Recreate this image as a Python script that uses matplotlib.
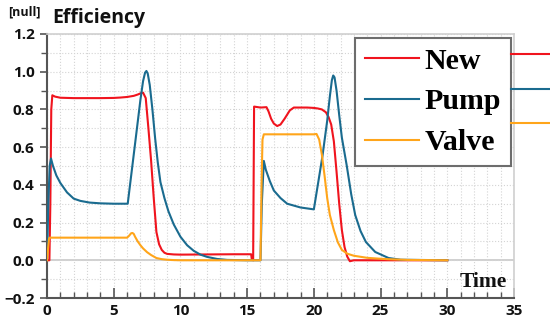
import matplotlib as mpl
mpl.use("Agg")
import matplotlib.pyplot as plt
from matplotlib.ticker import MultipleLocator, FuncFormatter

# values
t_new = [0, 0.18, 0.25, 0.32, 0.4, 0.6, 1.0, 2, 3, 4, 5, 5.5, 6.0, 6.5, 6.8, 7.0,
         7.2, 7.4, 7.6, 7.8, 8.0, 8.2, 8.4, 8.6, 8.8, 9.0, 9.5, 10, 12, 14, 15.3,
         15.35, 15.45, 15.52, 16.0, 16.45, 16.6, 16.8, 17.0, 17.25, 17.5, 17.8, 18.2,
         18.5, 19, 19.5, 20, 20.3, 20.6, 20.9, 21.1, 21.3, 21.5, 21.7, 21.9, 22.1,
         22.3, 22.5, 22.7, 23, 25, 30]
v_new = [0, 0, 0.3, 0.8, 0.875, 0.868, 0.862, 0.86, 0.86, 0.86, 0.861, 0.863, 0.866,
         0.872, 0.879, 0.885, 0.889, 0.86, 0.70, 0.53, 0.33, 0.15, 0.085, 0.055, 0.04,
         0.034, 0.031, 0.03, 0.031, 0.032, 0.032, 0.005, 0.0, 0.815, 0.81, 0.812, 0.79,
         0.75, 0.725, 0.712, 0.72, 0.75, 0.795, 0.81, 0.81, 0.81, 0.808, 0.805, 0.80,
         0.785, 0.76, 0.72, 0.63, 0.47, 0.30, 0.16, 0.07, 0.02, -0.005, 0.0, 0.0, 0.0]

t_pump = [0, 0.1, 0.2, 0.3, 0.45, 0.7, 1.0, 1.5, 2.0, 2.5, 3.2, 4, 5, 6.05, 6.54, 7.0,
          7.2, 7.35, 7.45, 7.55, 7.7, 7.9, 8.1, 8.3, 8.5, 8.8, 9.1, 9.5, 10.0, 10.5, 11,
          11.5, 12, 12.75, 13.5, 15, 16.0, 16.1, 16.25, 16.4, 16.7, 17.0, 17.5, 18.0,
          18.5, 19.0, 20.0, 20.64, 21.0, 21.2, 21.35, 21.45, 21.55, 21.7, 21.9, 22.1,
          22.46, 22.8, 23.1, 23.5, 23.9, 24.6, 25.6, 26.5, 30]
v_pump = [0.0, 0.3, 0.5, 0.54, 0.5, 0.45, 0.41, 0.36, 0.327, 0.315, 0.306, 0.302, 0.30,
          0.30, 0.583, 0.85, 0.95, 0.995, 1.004, 0.99, 0.93, 0.80, 0.65, 0.52, 0.415,
          0.33, 0.26, 0.19, 0.125, 0.08, 0.05, 0.03, 0.018, 0.007, 0.002, 0.0, 0.0,
          0.3, 0.527, 0.48, 0.42, 0.37, 0.33, 0.30, 0.29, 0.28, 0.27, 0.55, 0.74, 0.87,
          0.955, 0.98, 0.97, 0.9, 0.77, 0.65, 0.504, 0.35, 0.24, 0.155, 0.097, 0.044,
          0.012, 0.003, 0.0]

t_valve = [0, 0.05, 0.15, 0.2, 3, 6.0, 6.15, 6.3, 6.4, 6.5, 6.6, 6.8, 7.0, 7.2, 7.5,
           7.8, 8.2, 8.6, 9.0, 9.5, 10, 11, 15, 16.0, 16.08, 16.15, 16.25, 18, 20.0,
           20.2, 20.4, 20.6, 20.8, 21.0, 21.2, 21.5, 21.8, 22.1, 22.5, 23, 24, 24.6,
           25.5, 27, 30]
v_valve = [0.0, 0.04, 0.115, 0.12, 0.12, 0.12, 0.13, 0.143, 0.145, 0.14, 0.125, 0.10,
           0.08, 0.063, 0.043, 0.028, 0.012, 0.006, 0.003, 0.001, 0, 0, 0, 0, 0.4, 0.64,
           0.668, 0.668, 0.668, 0.67, 0.64, 0.56, 0.45, 0.33, 0.24, 0.16, 0.095, 0.055,
           0.035, 0.024, 0.013, 0.01, 0.006, 0.002, 0.0]

labels = ['New', 'Pump', 'Valve']
colors = ['#f0141e', '#1a6b8f', '#ffa51a']

tick_font = 'Open Sans'
legend_font = 'Liberation Serif'

fig = plt.figure(figsize=(5.5, 3.31), dpi=100)
ax = fig.add_axes([47/550, 1-298/331, (514-47)/550, (298-34)/331])

lines = []
for t, v, c in zip([t_new, t_pump, t_valve], [v_new, v_pump, v_valve], colors):
    ln, = ax.plot(t, v, '-', color=c, lw=1.5, zorder=3)
    lines.append(ln)

ax.axhline(0, color='#c8c8c8', lw=1.2, zorder=1)

ax.set_xlim(0, 35)
ax.set_ylim(-0.2, 1.2)
ax.xaxis.set_major_locator(MultipleLocator(5))
ax.xaxis.set_minor_locator(MultipleLocator(1))
ax.yaxis.set_major_locator(MultipleLocator(0.2))
ax.yaxis.set_minor_locator(MultipleLocator(0.1))
ax.yaxis.set_major_formatter(FuncFormatter(lambda y, p: f'{y:.1f}'.replace('-', '\u2212')))
ax.grid(which='both', ls=':', color='#d4d4d4', lw=0.8, zorder=0)

ax.tick_params(axis='x', which='both', direction='in', color='#555555')
ax.tick_params(axis='x', which='major', length=7, width=1.2)
ax.tick_params(axis='x', which='minor', length=4, width=1)
ax.tick_params(axis='y', which='both', direction='out', color='#555555')
ax.tick_params(axis='y', which='major', length=5, width=1.2)
ax.tick_params(axis='y', which='minor', length=4, width=1)
ax.tick_params(axis='both', which='major', labelsize=11, labelcolor='#111111', pad=4)
for lab in ax.get_xticklabels() + ax.get_yticklabels():
    lab.set_fontfamily(tick_font)
    lab.set_fontweight('bold')

for s in ['left', 'bottom']:
    ax.spines[s].set_color('#555555')
    ax.spines[s].set_linewidth(1.5)
for s in ['top', 'right']:
    ax.spines[s].set_color('#cfcfcf')
    ax.spines[s].set_linewidth(1.2)

fig.text(8/550, 1-15/331, '[null]', fontsize=9, fontweight='bold',
         fontfamily=tick_font, va='baseline', color='#111111')
fig.text(52/550, 1-22.5/331, 'Efficiency', fontsize=14, fontweight='bold',
         fontfamily=tick_font, va='baseline', color='#111111')
fig.text(507/550, 1-286.7/331, 'Time', fontsize=15.5, fontweight='bold',
         fontfamily=legend_font, va='baseline', ha='right', color='#111111')

leg = ax.legend(lines, labels, loc='upper right',
                bbox_to_anchor=(511/550, 1-37.7/331), bbox_transform=fig.transFigure,
                prop={'family': legend_font, 'weight': 'bold', 'size': 21.5},
                handlelength=1.8, handletextpad=0.2, borderpad=0.33,
                labelspacing=0.46, fancybox=False, framealpha=1,
                edgecolor='#6d6d6d', borderaxespad=0)
leg.get_frame().set_linewidth(1.5)
leg.set_zorder(5)

# clipped second legend sticking out on the right edge
leg2 = fig.legend(lines, [' ', ' ', ' '], loc='upper left',
                  bbox_to_anchor=(511/550, 1-46/331),
                  prop={'size': 14}, handlelength=2.5, handletextpad=0,
                  borderpad=0, borderaxespad=0, labelspacing=0.8, frameon=False)

fig.savefig('out.png', dpi=100)
